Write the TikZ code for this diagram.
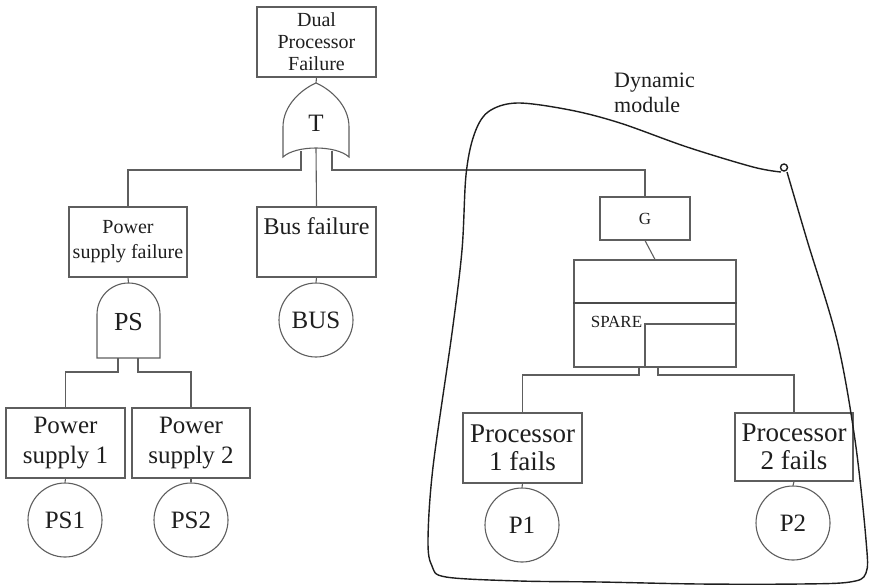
\documentclass[tikz,border=0pt]{standalone}
\usepackage{fontspec}
\setmainfont{Liberation Serif}
\definecolor{linegray}{HTML}{5E5E5E}
\definecolor{inkdark}{HTML}{1E1E1E}
\begin{document}
\begin{tikzpicture}[x=1pt,y=-1pt,
  wire/.style={draw=linegray, line width=1.1pt},
  gateshape/.style={draw=linegray, line width=1.1pt, fill=white},
  evbox/.style={draw=linegray, line width=1.1pt, rectangle, inner sep=0pt,
    align=center, text=inkdark},
  basic/.style={draw=linegray, line width=1.1pt, circle, minimum size=74pt,
    inner sep=0pt, text=inkdark, font=\fontsize{25}{28}\selectfont},
  gatelabel/.style={inner sep=0pt, text=inkdark},
  modloop/.style={draw=inkdark, line width=1.4pt}
]
\useasboundingbox (0,0) rectangle (874,587);

% ---- event boxes ----
\node[evbox, minimum width=119pt, minimum height=70pt,
      font=\fontsize{20}{22}\selectfont] (top) at (316.5,42)
      {Dual\\Processor\\Failure};
\node[evbox, minimum width=118pt, minimum height=70pt,
      font=\fontsize{20}{25}\selectfont] (psf) at (128,242)
      {Power\\supply failure};
\node[evbox, minimum width=119pt, minimum height=70pt] (busf) at (316.5,242) {};
\node[gatelabel, font=\fontsize{24}{28}\selectfont] (busftxt) at (316.5,226) {Bus failure};
\node[evbox, minimum width=119pt, minimum height=70pt,
      font=\fontsize{25}{30}\selectfont] (ps1) at (65.5,443) {Power\\supply 1};
\node[evbox, minimum width=118pt, minimum height=70pt,
      font=\fontsize{25}{30}\selectfont] (ps2) at (191,443) {Power\\supply 2};
\node[evbox, minimum width=90pt, minimum height=43pt,
      font=\fontsize{17}{20}\selectfont] (g) at (645,218.5) {G};
\node[evbox, minimum width=119pt, minimum height=70pt,
      font=\fontsize{27}{28}\selectfont] (proc1) at (522.5,448) {Processor\\1 fails};
\node[evbox, minimum width=118pt, minimum height=68pt,
      font=\fontsize{27}{28}\selectfont] (proc2) at (794,447) {Processor\\2 fails};

% ---- spare gate ----
\node[evbox, minimum width=162pt, minimum height=107pt] (spare) at (655,313.5) {};
\node[evbox, minimum width=91pt, minimum height=43pt] (sparein) at (690.5,345.5) {};
\draw[wire, line width=1.5pt, draw=inkdark!80] (spare.west |- 0,303) -- (spare.east |- 0,303);
\node[gatelabel, font=\fontsize{17}{20}\selectfont] (sparetxt) at (616.5,322) {SPARE};

% ---- basic events ----
\node[basic] (bus) at (316,320) {BUS};
\node[basic] (b1) at (65,520) {PS1};
\node[basic] (b2) at (191,520) {PS2};
\node[basic] (p1) at (522,525) {P1};
\node[basic] (p2) at (793,523) {P2};

% ---- OR gate T ----
\draw[gateshape] (283,157) -- (283,127)
  .. controls (283,105) and (302,89) .. (316,83)
  .. controls (330,89) and (349,105) .. (349,127) -- (349,157)
  .. controls (336,145) and (296,145) .. (283,157) -- cycle;
\node[gatelabel, font=\fontsize{25}{28}\selectfont] (t) at (316,123) {T};
\coordinate (tin) at (316,83);
\coordinate (tl) at (301,151);
\coordinate (tc) at (316,148);
\coordinate (tr) at (332,151);

% ---- AND gate PS ----
\draw[gateshape] (97,358) -- (97,314.5)
  .. controls (97,297) and (111,283) .. (128.5,283)
  .. controls (146,283) and (160,297) .. (160,314.5) -- (160,358) -- cycle;
\node[gatelabel, font=\fontsize{26}{28}\selectfont] (psg) at (128.5,322) {PS};
\coordinate (psin) at (128.5,283);
\coordinate (psl) at (118,358);
\coordinate (psr) at (138,358);

% spare outputs
\coordinate (spl) at (639,367);
\coordinate (spr) at (658,367);

% bar levels
\coordinate (tbar) at (0,170);
\coordinate (psbar) at (0,372);
\coordinate (spbar) at (0,375);

% ---- connectors ----
\draw[wire] (top.south) -- (tin);
\draw[wire] (tl) -- (tl |- tbar) -| (psf.north);
\draw[wire] (tc) -- (busf.north);
\draw[wire] (tr) -- (tr |- tbar) -| (g.north);
\draw[wire] (psf.south) -- (psin);
\draw[wire] (psl) -- (psl |- psbar) -| (ps1.north);
\draw[wire] (psr) -- (psr |- psbar) -| (ps2.north);
\draw[wire] (ps1.south) -- (b1.north);
\draw[wire] (ps2.south) -- (b2.north);
\draw[wire] (busf.south) -- (bus.north);
\draw[wire] (g.south) -- (spare.north);
\draw[wire] (spl) -- (spl |- spbar) -| (proc1.north);
\draw[wire] (spr) -- (spr |- spbar) -| (proc2.north);
\draw[wire] (proc1.south) -- (p1.north);
\draw[wire] (proc2.south) -- (p2.north);

% ---- dynamic module outline ----
\draw[modloop] plot[smooth, tension=0.55] coordinates {
  (781,172) (753,167) (687,147) (620,123) (570,110) (517,103) (488,112)
  (474,135) (466,175) (462,250) (452,333) (433,467) (428,540) (432,566)
  (446,577) (520,581) (600,582) (700,584) (800,584) (850,582) (866,573)
  (866,540) (855,440) (837,340) (807,240) (787,172)};
\draw[modloop] (784,167.5) circle[radius=3.5pt];
\node[gatelabel, anchor=north west, align=left,
      font=\fontsize{22}{25}\selectfont] (dyn) at (614,73) {Dynamic\\module};
\end{tikzpicture}
\end{document}
